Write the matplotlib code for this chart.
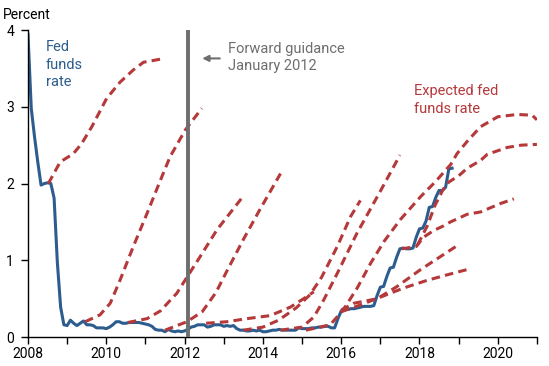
import matplotlib.pyplot as plt
import numpy as np

plt.rcParams['font.family'] = ['Roboto', 'DejaVu Sans']

BLUE = '#2c5d8e'
RED = '#b5393a'
GRAY = '#6e6e6e'

# monthly effective fed funds rate, Jan 2008 .. Nov 2018
ffr = [
    3.94, 2.98, 2.61, 2.28, 1.98, 2.00, 2.01, 2.00, 1.81, 0.97, 0.39, 0.16,
    0.15, 0.22, 0.18, 0.15, 0.18, 0.21, 0.16, 0.16, 0.15, 0.12, 0.12, 0.12,
    0.11, 0.13, 0.16, 0.20, 0.20, 0.18, 0.18, 0.19, 0.19, 0.19, 0.19, 0.18,
    0.17, 0.16, 0.14, 0.10, 0.09, 0.09, 0.07, 0.10, 0.08, 0.07, 0.08, 0.07,
    0.08, 0.10, 0.13, 0.14, 0.16, 0.16, 0.16, 0.13, 0.14, 0.16, 0.16, 0.16,
    0.14, 0.15, 0.14, 0.15, 0.11, 0.09, 0.09, 0.08, 0.08, 0.09, 0.08, 0.09,
    0.07, 0.07, 0.08, 0.09, 0.09, 0.10, 0.09, 0.09, 0.09, 0.09, 0.09, 0.12,
    0.11, 0.11, 0.11, 0.12, 0.12, 0.13, 0.13, 0.14, 0.14, 0.12, 0.12, 0.24,
    0.34, 0.38, 0.36, 0.37, 0.37, 0.38, 0.39, 0.40, 0.40, 0.40, 0.41, 0.54,
    0.65, 0.66, 0.79, 0.90, 0.91, 1.04, 1.15, 1.16, 1.15, 1.15, 1.16, 1.30,
    1.41, 1.42, 1.51, 1.69, 1.70, 1.82, 1.91, 1.91, 1.95, 2.19, 2.20,
]
ffr_t = 2008 + np.arange(len(ffr)) / 12

# expected paths (year, percent)
exp_2008_t = [2008.52, 2008.82, 2009.16, 2009.37, 2009.63, 2010.01, 2010.35, 2010.69, 2010.95, 2011.38]
exp_2008_v = [2.00, 2.28, 2.39, 2.52, 2.74, 3.11, 3.32, 3.48, 3.58, 3.62]
exp_2009_t = [2009.46, 2009.84, 2010.10, 2010.35, 2010.69, 2011.04, 2011.38, 2011.63, 2012.02, 2012.44]
exp_2009_v = [0.20, 0.29, 0.44, 0.74, 1.18, 1.61, 2.04, 2.35, 2.70, 2.98]
exp_2010_t = [2010.55, 2011.04, 2011.38, 2011.80, 2012.06, 2012.40, 2012.83, 2013.46]
exp_2010_v = [0.19, 0.24, 0.34, 0.57, 0.78, 1.05, 1.40, 1.81]
exp_2011_t = [2011.50, 2012.06, 2012.45, 2012.80, 2013.10, 2013.50, 2013.90, 2014.45]
exp_2011_v = [0.09, 0.20, 0.33, 0.58, 0.88, 1.27, 1.64, 2.13]
exp_2012_t = [2012.55, 2013.08, 2013.59, 2014.19, 2014.70, 2015.04, 2015.30]
exp_2012_v = [0.18, 0.20, 0.24, 0.28, 0.39, 0.50, 0.59]
exp_2013_t = [2013.50, 2014.00, 2014.40, 2014.85, 2015.20, 2015.50, 2015.90, 2016.24, 2016.49]
exp_2013_v = [0.09, 0.13, 0.22, 0.38, 0.55, 0.78, 1.18, 1.57, 1.78]
exp_2014_t = [2014.45, 2015.00, 2015.30, 2015.55, 2015.90, 2016.40, 2017.00, 2017.50]
exp_2014_v = [0.09, 0.13, 0.26, 0.48, 0.83, 1.35, 1.90, 2.37]
exp_2015_t = [2015.10, 2015.72, 2016.06, 2016.41, 2016.75, 2017.10, 2017.51, 2018.03, 2018.40,
              2018.80, 2018.96, 2019.22, 2019.56, 2020.00, 2020.50, 2020.88, 2021.00]
exp_2015_v = [0.09, 0.16, 0.36, 0.64, 0.96, 1.25, 1.53, 1.83, 2.02,
              2.25, 2.39, 2.55, 2.74, 2.87, 2.90, 2.89, 2.83]
exp_2016a_t = [2016.00, 2016.32, 2016.92, 2017.43, 2018.03, 2018.54, 2018.96]
exp_2016a_v = [0.35, 0.44, 0.50, 0.66, 0.88, 1.05, 1.19]
exp_2016b_t = [2016.00, 2016.50, 2016.95, 2017.60, 2018.20, 2018.70, 2019.22]
exp_2016b_v = [0.33, 0.42, 0.51, 0.64, 0.74, 0.81, 0.88]
exp_2017_t = [2017.55, 2017.92, 2018.10, 2018.37, 2018.62, 2018.79, 2019.05, 2019.22, 2019.56, 2020.07, 2020.41]
exp_2017_v = [1.15, 1.18, 1.30, 1.39, 1.45, 1.50, 1.56, 1.60, 1.63, 1.74, 1.80]
exp_2018_t = [2017.95, 2018.20, 2018.40, 2018.60, 2018.75, 2019.00, 2019.22, 2019.56, 2019.73, 2020.24, 2020.60, 2021.00]
exp_2018_v = [1.20, 1.45, 1.72, 1.92, 2.02, 2.10, 2.20, 2.30, 2.38, 2.47, 2.50, 2.51]

paths = [
    (exp_2008_t, exp_2008_v), (exp_2009_t, exp_2009_v), (exp_2010_t, exp_2010_v),
    (exp_2011_t, exp_2011_v), (exp_2012_t, exp_2012_v), (exp_2013_t, exp_2013_v),
    (exp_2014_t, exp_2014_v), (exp_2015_t, exp_2015_v), (exp_2016a_t, exp_2016a_v),
    (exp_2016b_t, exp_2016b_v), (exp_2017_t, exp_2017_v), (exp_2018_t, exp_2018_v),
]

guidance_date = 2012.08

fig = plt.figure(figsize=(5.49, 3.66), dpi=100)
ax = fig.add_axes([0.051, 0.079, 0.927, 0.839])

ax.plot(ffr_t, ffr, color=BLUE, linewidth=2.2, zorder=2)
for t, v in paths:
    ax.plot(t, v, color=RED, linewidth=2.2, dashes=(2.8, 1.7), zorder=3)

ax.axvline(guidance_date, color=GRAY, linewidth=2.8, zorder=4)

ax.annotate('', xy=(2012.38, 3.63), xytext=(2012.97, 3.63),
            arrowprops=dict(arrowstyle='-|>', color=GRAY, lw=1.5, mutation_scale=9))
ax.text(2013.11, 3.64, 'Forward guidance\nJanuary 2012', color=GRAY, fontsize=10.5,
        va='center', ha='left', linespacing=1.3)
ax.text(2008.46, 3.55, 'Fed\nfunds\nrate', color=BLUE, fontsize=10.5,
        va='center', ha='left', linespacing=1.3)
ax.text(2017.87, 3.09, 'Expected fed\nfunds rate', color=RED, fontsize=10.5,
        va='center', ha='left', linespacing=1.3)

ax.set_xlim(2008, 2021)
ax.set_ylim(0, 4)
ax.set_xticks(np.arange(2008, 2021, 2))
ax.set_xticks(np.arange(2009, 2022, 2), minor=True)
ax.set_yticks([0, 1, 2, 3, 4])
ax.tick_params(axis='both', labelsize=10, length=5, width=1, color='black', pad=2)
ax.tick_params(axis='y', pad=5)
ax.tick_params(axis='x', which='minor', length=5, width=1)
for s in ['top', 'right']:
    ax.spines[s].set_visible(False)
ax.spines['left'].set_linewidth(1)
ax.spines['bottom'].set_linewidth(1)

fig.text(0.005, 0.958, 'Percent', fontsize=10, ha='left', va='center')

fig.savefig('out.png', dpi=100)
